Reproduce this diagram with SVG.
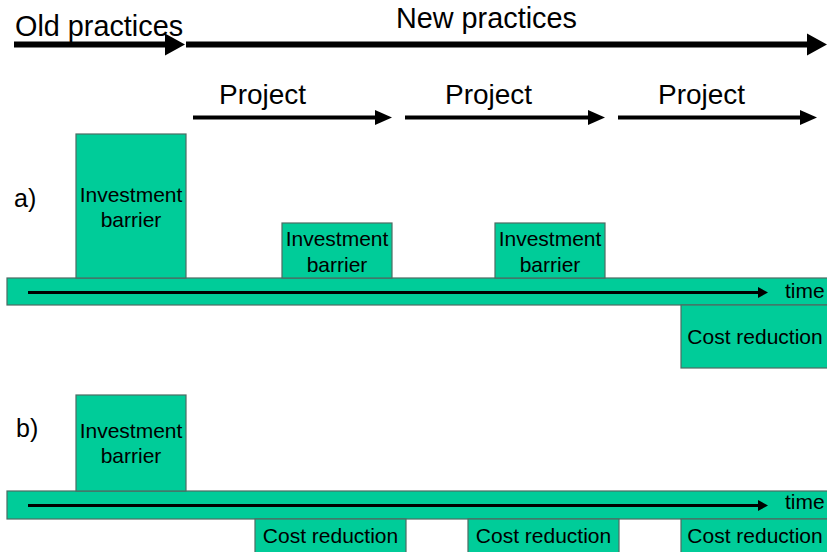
<svg xmlns="http://www.w3.org/2000/svg" width="827" height="552" viewBox="0 0 827 552">
<style>
  .box { fill: #00CC99; stroke: #4d6b63; stroke-width: 1.2; }
  .t { font-family: "Liberation Sans", Arial, sans-serif; fill: #000; }
  .big { font-size: 28.8px; }
  .proj { font-size: 28px; }
  .lbl { font-size: 21px; text-anchor: middle; }
  .time { font-size: 21px; }
  .sec { font-size: 25px; }
  .a6 { stroke: #000; stroke-width: 6; fill: none; }
  .a4 { stroke: #000; stroke-width: 4; fill: none; }
  .a3 { stroke: #000; stroke-width: 3; fill: none; }
</style>
<defs>
  <marker id="hBig" markerUnits="userSpaceOnUse" markerWidth="21" markerHeight="24" refX="0" refY="12" orient="auto">
    <polygon points="0,1 20,12 0,23" fill="#000"/>
  </marker>
  <marker id="hProj" markerUnits="userSpaceOnUse" markerWidth="18" markerHeight="16" refX="0" refY="8" orient="auto">
    <polygon points="0,0.5 17,8 0,15.5" fill="#000"/>
  </marker>
  <marker id="hTime" markerUnits="userSpaceOnUse" markerWidth="11" markerHeight="12" refX="0" refY="6" orient="auto">
    <polygon points="0,0.5 10,6 0,11.5" fill="#000"/>
  </marker>
</defs>
<rect width="827" height="552" fill="#fff"/>

<!-- timeline bars -->
<g id="bar-a"><rect class="box" x="7" y="278" width="830" height="27"/></g>
<g id="bar-b"><rect class="box" x="7" y="491" width="830" height="28"/></g>

<g id="connectors">
  <line class="a6" x1="14" y1="44.5" x2="165" y2="44.5" marker-end="url(#hBig)"/>
  <line class="a6" x1="186" y1="44.5" x2="807" y2="44.5" marker-end="url(#hBig)"/>
  <line class="a4" x1="193" y1="117.5" x2="375" y2="117.5" marker-end="url(#hProj)"/>
  <line class="a4" x1="405" y1="117.5" x2="588" y2="117.5" marker-end="url(#hProj)"/>
  <line class="a4" x1="618" y1="117.5" x2="800" y2="117.5" marker-end="url(#hProj)"/>
  <line class="a3" x1="28" y1="292.5" x2="758" y2="292.5" marker-end="url(#hTime)"/>
  <line class="a3" x1="28" y1="505.5" x2="758" y2="505.5" marker-end="url(#hTime)"/>
</g>

<g id="labels">
  <text class="t big" x="15" y="36">Old practices</text>
  <text class="t big" x="396" y="28">New practices</text>
  <text class="t proj" x="219" y="104">Project</text>
  <text class="t proj" x="445" y="104">Project</text>
  <text class="t proj" x="658" y="104">Project</text>
  <text class="t sec" x="14" y="207">a)</text>
  <text class="t sec" x="16" y="437">b)</text>
  <text class="t time" x="785" y="298">time</text>
  <text class="t time" x="785" y="509">time</text>
</g>

<g id="a-invest-1">
  <rect class="box" x="76" y="134" width="110" height="144"/>
  <text class="t lbl" x="131" y="202">Investment</text>
  <text class="t lbl" x="131" y="227">barrier</text>
</g>
<g id="a-invest-2">
  <rect class="box" x="282" y="223" width="110" height="55"/>
  <text class="t lbl" x="337" y="246">Investment</text>
  <text class="t lbl" x="337" y="272">barrier</text>
</g>
<g id="a-invest-3">
  <rect class="box" x="495" y="223" width="110" height="55"/>
  <text class="t lbl" x="550" y="246">Investment</text>
  <text class="t lbl" x="550" y="272">barrier</text>
</g>
<g id="a-cost">
  <rect class="box" x="681" y="305" width="160" height="63"/>
  <text class="t lbl" x="755" y="344">Cost reduction</text>
</g>

<g id="b-invest">
  <rect class="box" x="76" y="395" width="110" height="96"/>
  <text class="t lbl" x="131" y="438">Investment</text>
  <text class="t lbl" x="131" y="463">barrier</text>
</g>
<g id="b-cost-1">
  <rect class="box" x="255" y="519" width="151" height="40"/>
  <text class="t lbl" x="330.5" y="543">Cost reduction</text>
</g>
<g id="b-cost-2">
  <rect class="box" x="468" y="519" width="151" height="40"/>
  <text class="t lbl" x="543.5" y="543">Cost reduction</text>
</g>
<g id="b-cost-3">
  <rect class="box" x="681" y="519" width="160" height="40"/>
  <text class="t lbl" x="755" y="543">Cost reduction</text>
</g>
</svg>
